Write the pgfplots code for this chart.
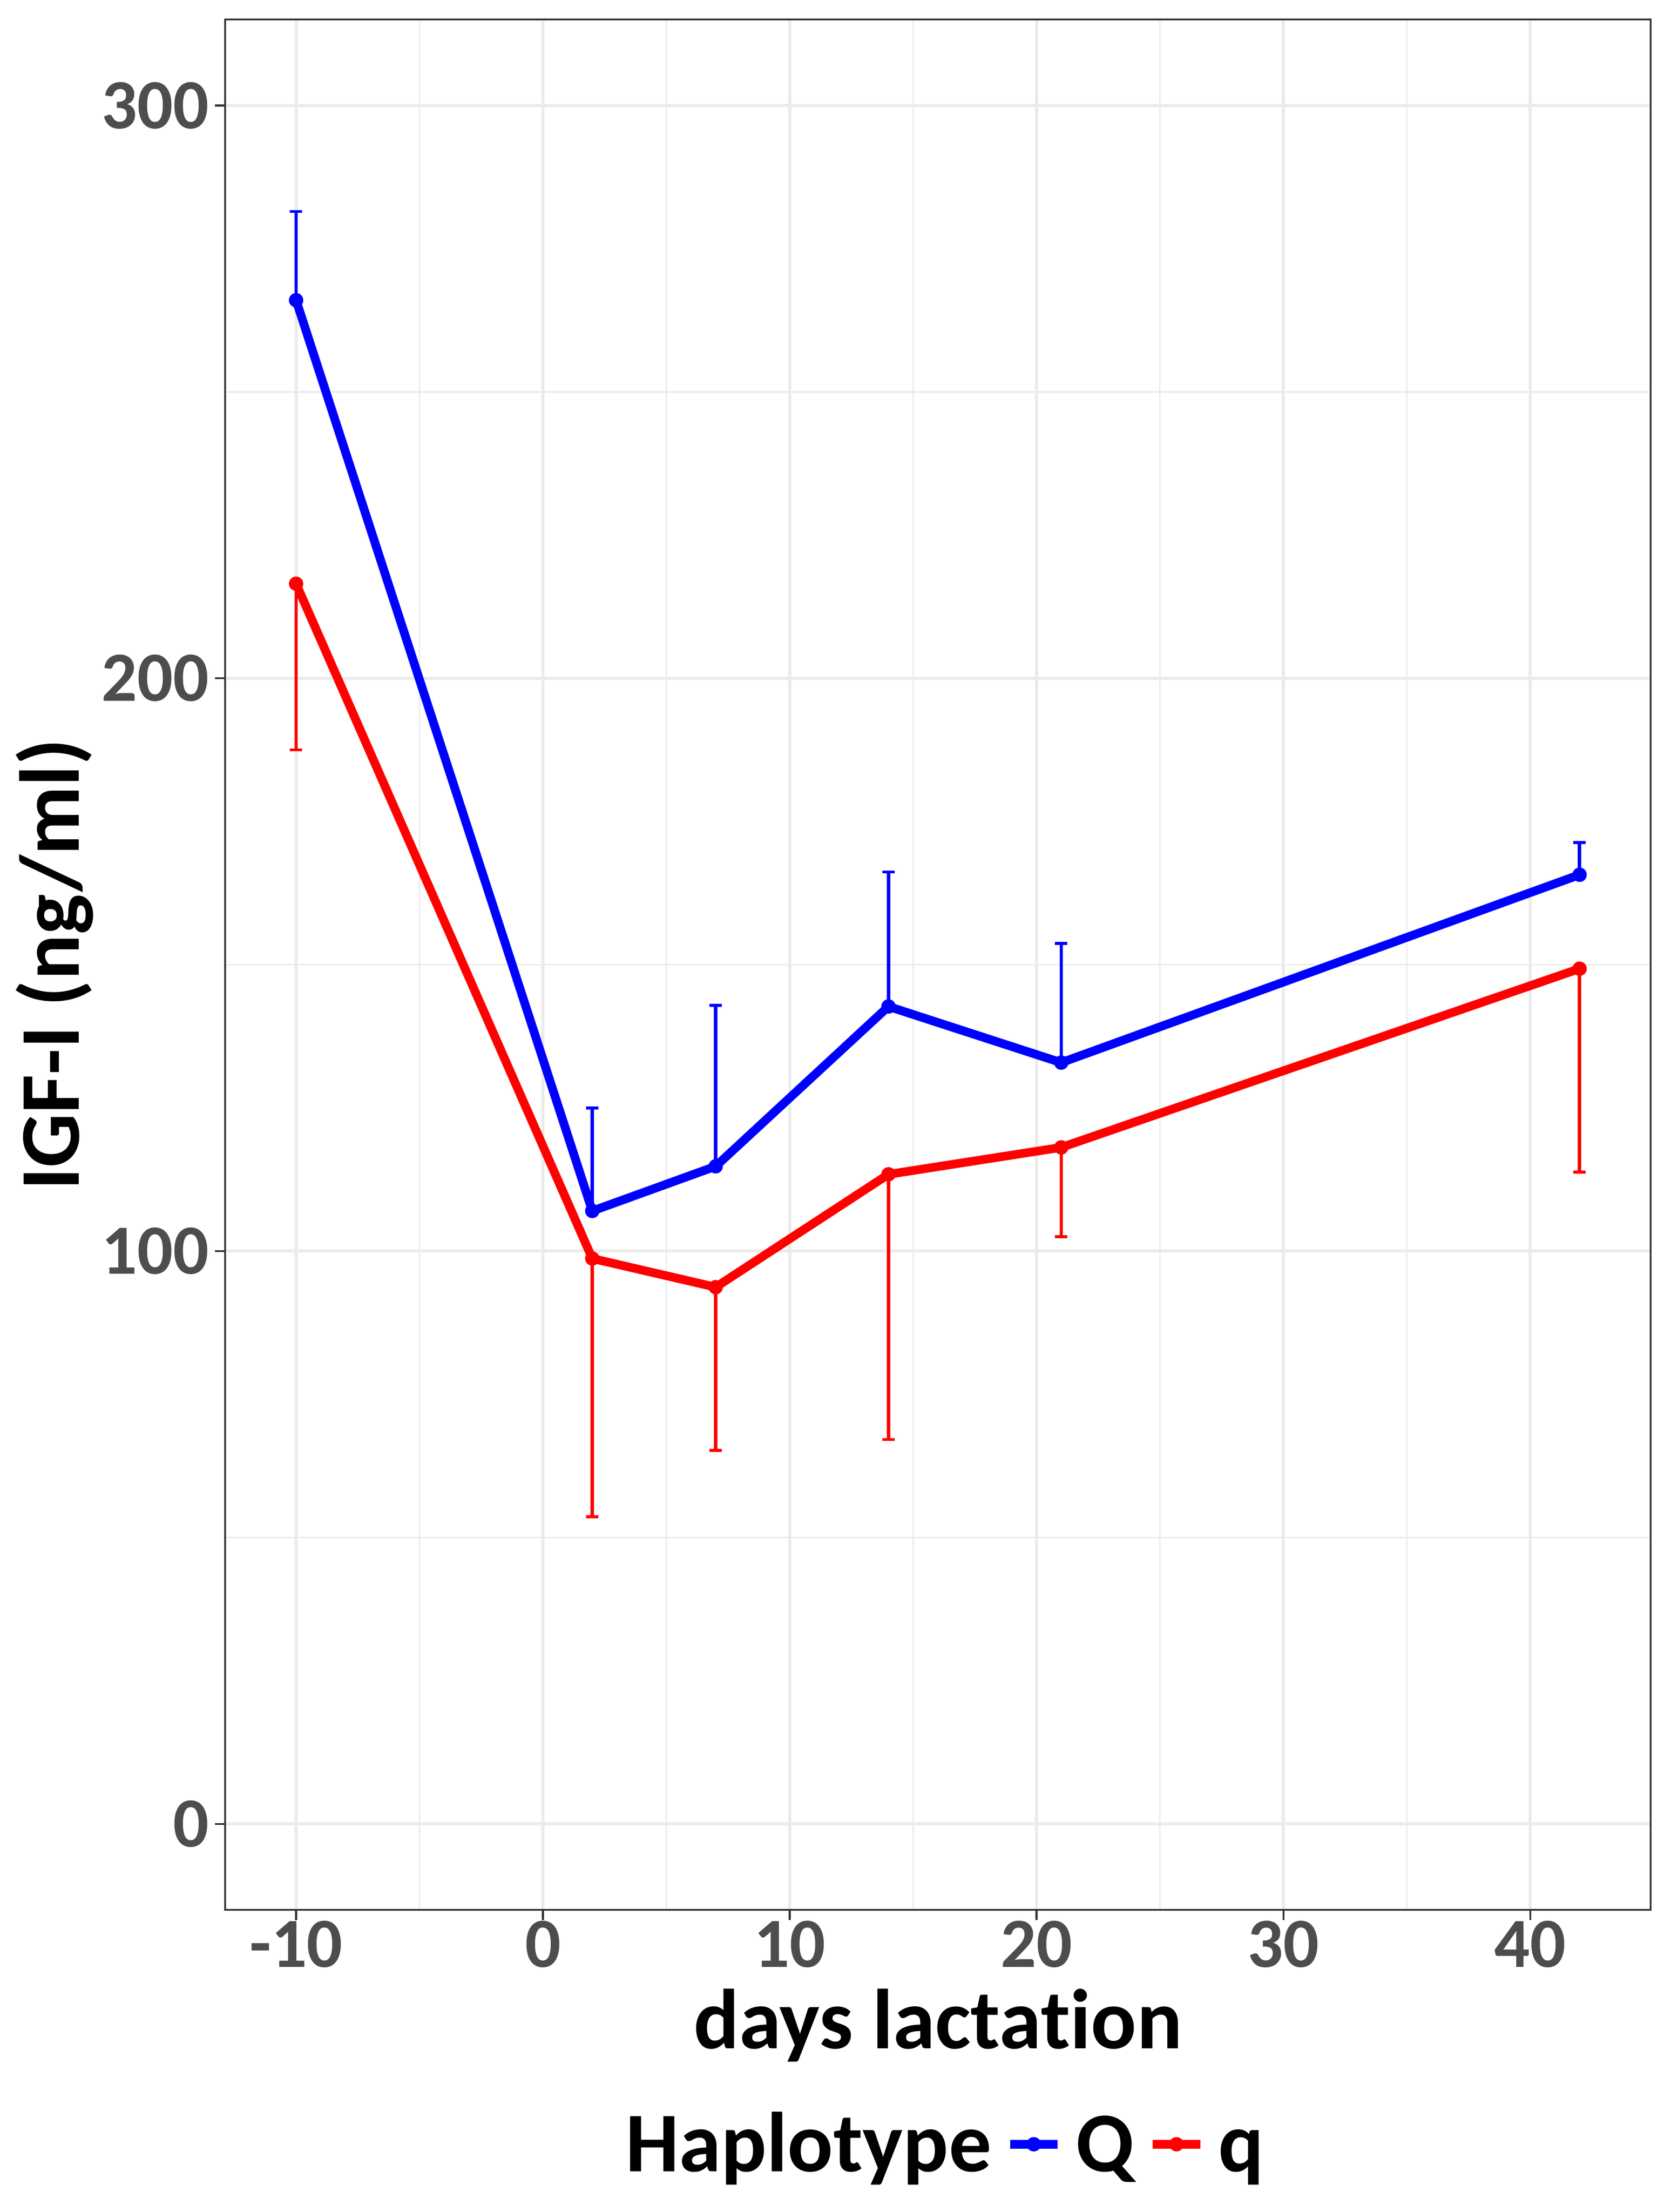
\documentclass[border=0pt]{standalone}
\usepackage{fontspec}
\setmainfont{Carlito}[Ligatures={NoCommon}]
\usepackage{pgfplots}
\usepackage{pgfplotstable}
\pgfplotsset{compat=1.18}
\definecolor{tickgray}{HTML}{4D4D4D}
\definecolor{bordergray}{HTML}{333333}
\definecolor{gridgray}{HTML}{EBEBEB}

\pgfplotstableread{
x y e
-10 266.0 15.5
2 107.0 18.0
7 114.8 28.1
14 142.7 23.5
21 132.9 20.8
42 165.7 5.6
}\Qdata
\pgfplotstableread{
x y e
-10 216.5 29.0
2 98.7 45.1
7 93.7 28.5
14 113.4 46.3
21 118.1 15.6
42 149.3 35.5
}\qdata

\begin{document}
\begin{tikzpicture}
\begin{axis}[
  name=ax,
  scale only axis, width=246.6bp, height=326.95bp,
  xmin=-12.875, xmax=44.875, ymin=-15, ymax=315,
  xtick={-10,0,10,20,30,40}, xticklabels={-10,0,10,20,30,40},
  ytick={0,100,200,300}, yticklabels={0,100,200,300},
  minor xtick={-5,5,15,25,35}, minor ytick={50,150,250},
  grid=both,
  major grid style={gridgray, line width=0.53bp},
  minor grid style={gridgray, line width=0.27bp},
  minor tick length=0pt,
  tick align=outside, major tick length=1.73bp,
  xtick pos=bottom, ytick pos=left,
  tick style={bordergray, line width=0.33bp},
  axis line style={bordergray, line width=0.33bp},
  ticklabel style={font=\fontsize{12.2bp}{14bp}\selectfont\bfseries, text=tickgray, inner sep=0pt},
  xticklabel style={anchor=north},
  yticklabel style={anchor=east, xshift=-0.9bp},
  every axis x label/.style={at={(rel axis cs:0.5,0)}, anchor=north, inner sep=0pt, yshift=-13.46bp, font=\fontsize{14.7bp}{17bp}\selectfont\bfseries},
  every axis y label/.style={at={(rel axis cs:0,0.5)}, rotate=90, anchor=north, inner sep=0pt, yshift=36.4bp, font=\fontsize{14.7bp}{17bp}\selectfont\bfseries},
  xlabel={days lactation},
  ylabel={IGF-I (ng/ml)},
  legend columns=-1,
  legend style={at={(0.5,0)}, anchor=north, yshift=-33.6bp, draw=none, fill=none, inner sep=0pt, column sep=0pt,
    font=\fontsize{14.7bp}{17bp}\selectfont\bfseries,
    nodes={inner sep=0pt, text height=11.5bp, text depth=2.0bp},
    /tikz/every odd column/.append style={column sep=2.4bp},
    /tikz/every even column/.append style={column sep=2.5bp}},
  legend image code/.code={\draw[#1, mark repeat=2, mark phase=2] plot coordinates {(0bp,0bp) (4.1bp,0bp) (8.2bp,0bp)};},
]
\addlegendimage{empty legend}
\addlegendentry{Haplotype\hspace{1.7bp}}
\addplot[blue, line width=1.5bp, line join=round, mark=*, mark size=1.0bp,
  mark options={solid, fill=blue, draw=blue, line width=0.5bp},
  error bars/.cd, y dir=plus, y explicit, error mark=-,
  error bar style={blue, line width=0.6bp},
  error mark options={rotate=90, blue, line width=0.5bp, mark size=1.07bp}]
  table[x=x, y=y, y error=e] {\Qdata};
\addlegendentry{Q}
\addplot[red, line width=1.5bp, line join=round, mark=*, mark size=1.0bp,
  mark options={solid, fill=red, draw=red, line width=0.5bp},
  error bars/.cd, y dir=minus, y explicit, error mark=-,
  error bar style={red, line width=0.6bp},
  error mark options={rotate=90, red, line width=0.5bp, mark size=1.07bp}]
  table[x=x, y=y, y error=e] {\qdata};
\addlegendentry{q}
\end{axis}
\pgfresetboundingbox
\path[use as bounding box] ([xshift=-38.95bp,yshift=-52.27bp]ax.south west) rectangle ([xshift=3.53bp,yshift=3.38bp]ax.north east);
\end{tikzpicture}
\end{document}
